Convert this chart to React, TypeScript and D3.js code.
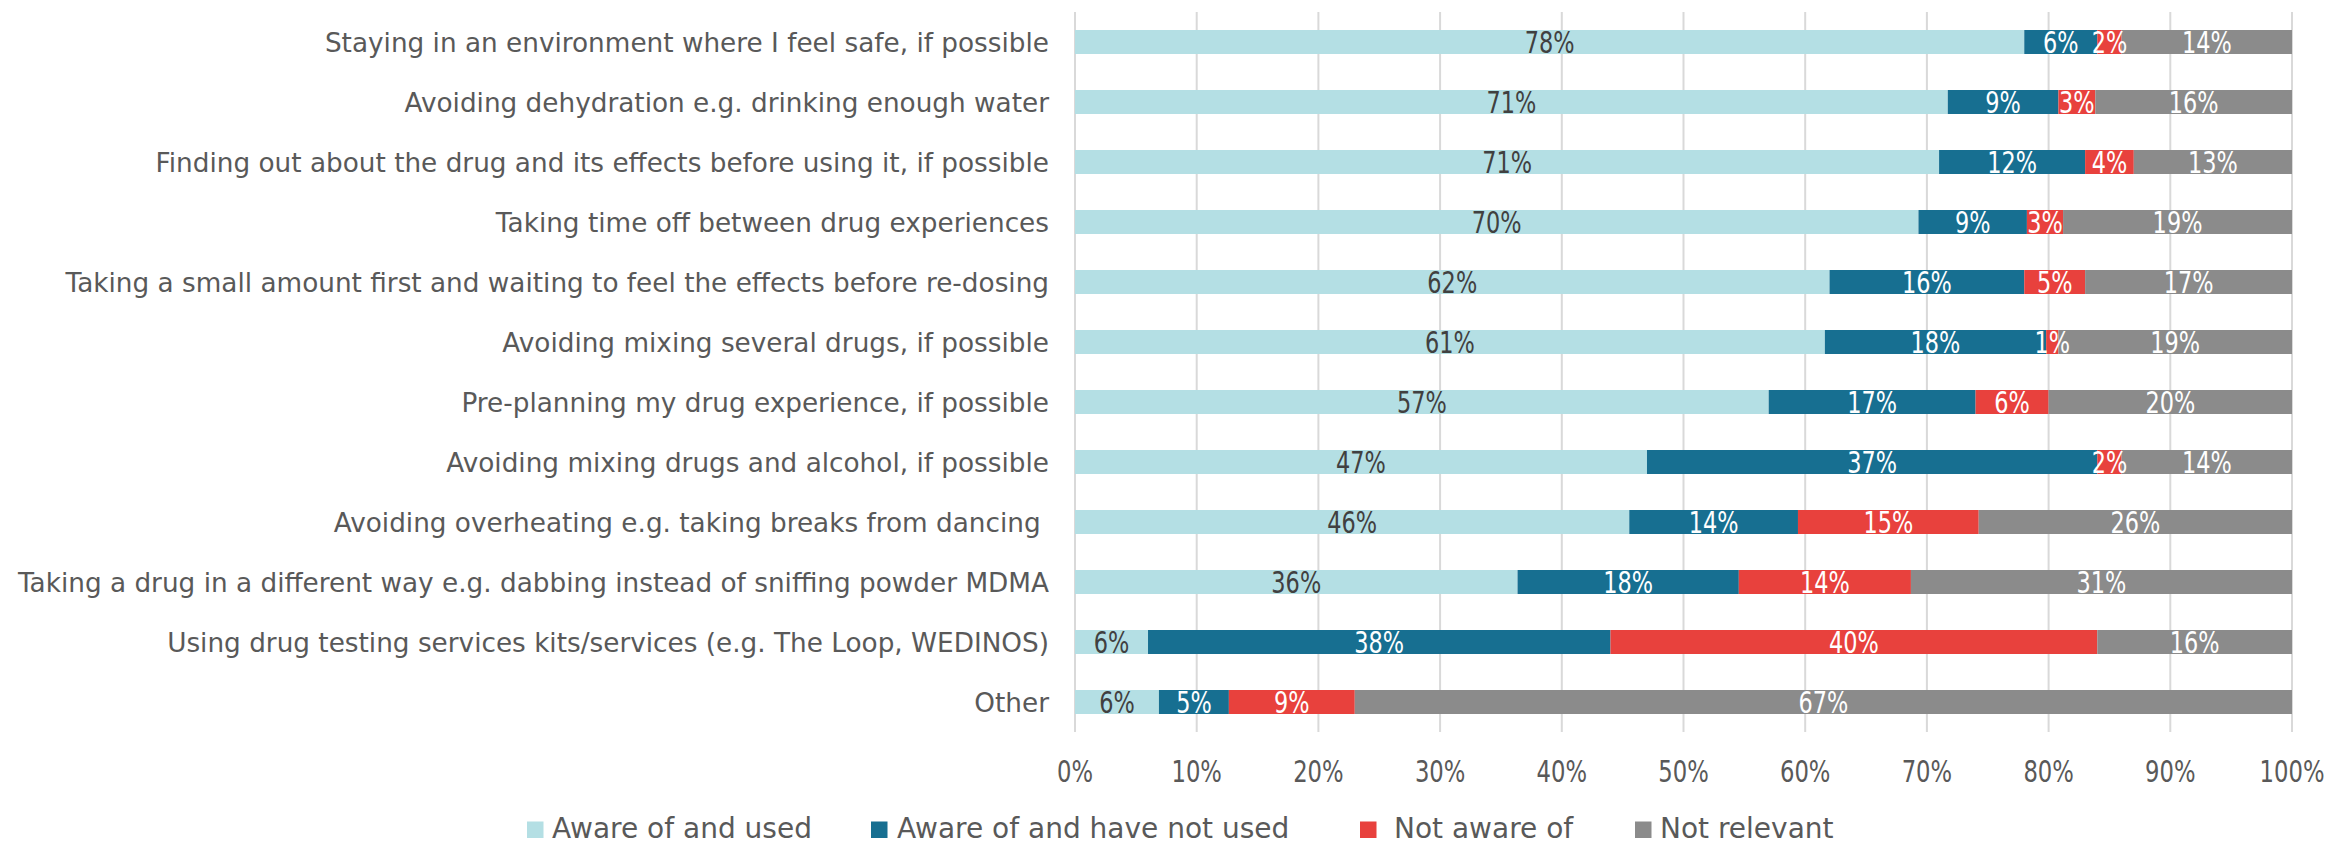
import React from "react";
import * as d3 from "d3";

const categories = [
  "Staying in an environment where I feel safe, if possible",
  "Avoiding dehydration e.g. drinking enough water",
  "Finding out about the drug and its effects before using it, if possible",
  "Taking time off between drug experiences",
  "Taking a small amount first and waiting to feel the effects before re-dosing",
  "Avoiding mixing several drugs, if possible",
  "Pre-planning my drug experience, if possible",
  "Avoiding mixing drugs and alcohol, if possible",
  "Avoiding overheating e.g. taking breaks from dancing ",
  "Taking a drug in a different way e.g. dabbing instead of sniffing powder MDMA",
  "Using drug testing services kits/services (e.g. The Loop, WEDINOS)",
  "Other",
];

const awareUsed = [78, 71, 71, 70, 62, 61, 57, 47, 46, 36, 6, 6];
const awareNotUsed = [6, 9, 12, 9, 16, 18, 17, 37, 14, 18, 38, 5];
const notAware = [2, 3, 4, 3, 5, 1, 6, 2, 15, 14, 40, 9];
const notRelevant = [14, 16, 13, 19, 17, 19, 20, 14, 26, 31, 16, 67];

const seriesNames = ["Aware of and used", "Aware of and have not used", "Not aware of", "Not relevant"];
const seriesKeys = ["awareUsed", "awareNotUsed", "notAware", "notRelevant"];
const seriesColors = ["#b4dfe4", "#176f91", "#e8413d", "#8b8b8b"];
const labelColors = ["#404040", "#ffffff", "#ffffff", "#ffffff"];

const xTicks = [0, 0.1, 0.2, 0.3, 0.4, 0.5, 0.6, 0.7, 0.8, 0.9, 1];

const W = 2331;
const H = 845;
const X0 = 1075;
const X1 = 2292;
const Y0 = 12;
const Y1 = 732;
const TEXT = "#595959";
const FONT = "'DejaVu Sans', Verdana, sans-serif";

// legend layout (swatch left, text left)
const legendSwatchX = [527, 871, 1360, 1635];
const legendTextX = [552, 897, 1394, 1660];

export default function App() {
  const rows = categories.map((c, i) => ({
    category: c,
    awareUsed: awareUsed[i],
    awareNotUsed: awareNotUsed[i],
    notAware: notAware[i],
    notRelevant: notRelevant[i],
  }));

  const stack = d3
    .stack<any>()
    .keys(seriesKeys)
    .offset(d3.stackOffsetExpand);
  const layers = stack(rows);

  const x = d3.scaleLinear().domain([0, 1]).range([X0, X1]);
  const y = d3
    .scaleBand<string>()
    .domain(categories)
    .range([Y0, Y1])
    .paddingInner(0.6)
    .paddingOuter(0.3);
  const fmt = d3.format(".0%");

  return (
    <svg
      width={W}
      height={H}
      style={{ position: "absolute", left: 0, top: 0, background: "#fff" }}
      fontFamily={FONT}
    >
      {/* gridlines */}
      {xTicks.map((t) => (
        <line
          key={"g" + t}
          x1={x(t)}
          x2={x(t)}
          y1={Y0}
          y2={Y1}
          stroke="#d9d9d9"
          strokeWidth={2}
        />
      ))}

      {/* bars */}
      {layers.map((layer, si) => (
        <g key={layer.key} fill={seriesColors[si]}>
          {layer.map((d, i) => (
            <rect
              key={i}
              x={x(d[0])}
              y={y(categories[i])}
              width={Math.max(0, x(d[1]) - x(d[0]))}
              height={y.bandwidth()}
            />
          ))}
        </g>
      ))}

      {/* value labels */}
      {layers.map((layer, si) => (
        <g key={"l" + layer.key} fill={labelColors[si]}>
          {layer.map((d, i) => {
            const cx = (x(d[0]) + x(d[1])) / 2;
            const cy = (y(categories[i]) as number) + y.bandwidth() / 2 + 10.5;
            return (
              <text
                key={i}
                transform={`translate(${cx},${cy}) scale(0.76,1)`}
                textAnchor="middle"
                fontSize={29.5}
              >
                {(rows[i] as any)[layer.key] + "%"}
              </text>
            );
          })}
        </g>
      ))}

      {/* category labels */}
      {categories.map((c) => (
        <text
          key={"c" + c}
          x={1049}
          y={(y(c) as number) + y.bandwidth() / 2 + 9.5}
          textAnchor="end"
          fontSize={26.3}
          fill={TEXT}
          style={{ whiteSpace: "pre" }}
        >
          {c}
        </text>
      ))}

      {/* x tick labels */}
      {xTicks.map((t) => (
        <text
          key={"t" + t}
          transform={`translate(${x(t)},781.5) scale(0.77,1)`}
          textAnchor="middle"
          fontSize={29.5}
          fill={TEXT}
        >
          {fmt(t)}
        </text>
      ))}

      {/* legend */}
      {seriesNames.map((n, i) => (
        <g key={"lg" + n}>
          <rect x={legendSwatchX[i]} y={821.5} width={16.5} height={16.5} fill={seriesColors[i]} />
          <text x={legendTextX[i]} y={838} fontSize={28} fill={TEXT}>
            {n}
          </text>
        </g>
      ))}
    </svg>
  );
}
